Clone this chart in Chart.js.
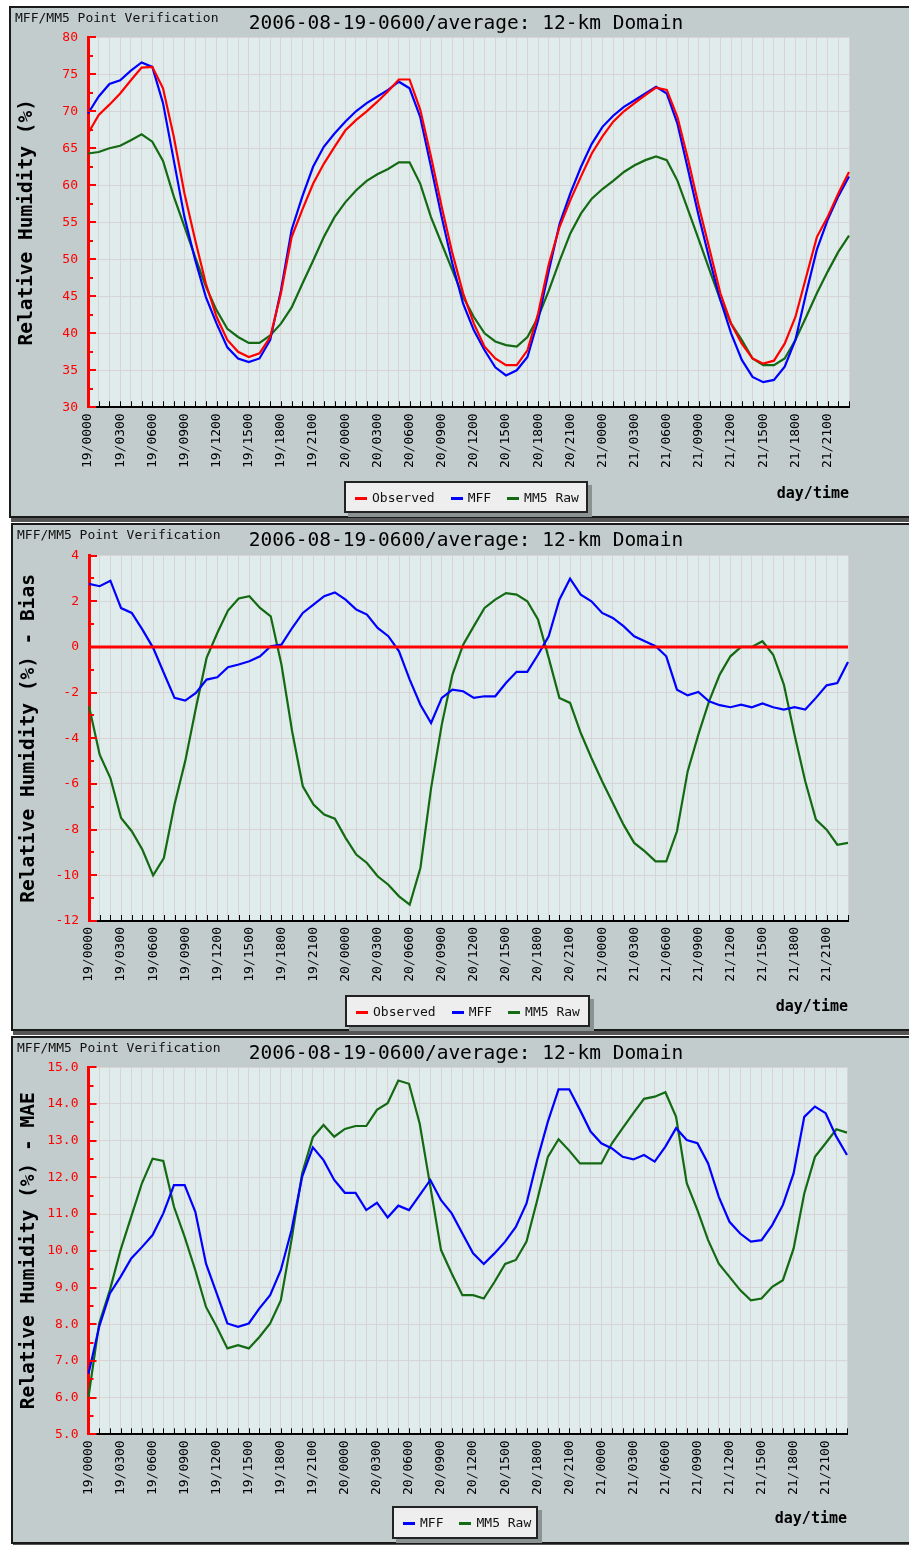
<!DOCTYPE html>
<html>
<head>
<meta charset="utf-8">
<script src="https://cdn.jsdelivr.net/npm/chart.js"></script>
<style>
  body { margin: 0; background: #fff; font-family: "DejaVu Sans Mono", monospace; }
  .panel { position: absolute; border: 2px solid #1a1a1a; background: #c2cccc; box-shadow: 2px 4px 0 #555; }
  .panel canvas { position: absolute; left: 0; top: 0; }
  .hdr { position: absolute; left: 4px; top: 3px; font-size: 13px; line-height: 13px; color: #111; white-space: nowrap; }
  .ttl { position: absolute; top: 5px; font-size: 19.5px; line-height: 20px; color: #000; white-space: nowrap; transform: translateX(-50%); }
  .legend { position: absolute; box-sizing: border-box; border: 2px solid #222; background: #eeeeee;
            box-shadow: 4px 4px 0 #8a9292; display: flex; align-items: center; padding: 0 9px; gap: 16px;
            font-size: 13px; color: #111; white-space: nowrap; }
  .legend .dash { display: inline-block; width: 12px; height: 3px; margin-right: 5px; vertical-align: middle; }
</style>
</head>
<body>

<div class="panel" id="p1" style="left:9px; top:6px; width:898px; height:508px;">
  <canvas id="c1" width="898" height="508"></canvas>
  <div class="hdr">MFF/MM5 Point Verification</div>
  <div class="ttl" style="left:455px;">2006-08-19-0600/average: 12-km Domain</div>
  <div class="legend" id="l1" style="left:333px; top:473px; width:244px; height:32px;"></div>
</div>

<div class="panel" id="p2" style="left:11px; top:523px; width:896px; height:504px;">
  <canvas id="c2" width="896" height="504"></canvas>
  <div class="hdr">MFF/MM5 Point Verification</div>
  <div class="ttl" style="left:453px;">2006-08-19-0600/average: 12-km Domain</div>
  <div class="legend" id="l2" style="left:332px; top:470px; width:245px; height:32px;"></div>
</div>

<div class="panel" id="p3" style="left:11px; top:1036px; width:896px; height:504px;">
  <canvas id="c3" width="896" height="504"></canvas>
  <div class="hdr">MFF/MM5 Point Verification</div>
  <div class="ttl" style="left:453px;">2006-08-19-0600/average: 12-km Domain</div>
  <div class="legend" id="l3" style="left:379px; top:468px; width:146px; height:33px;"></div>
</div>

<script>
const mono = '"DejaVu Sans Mono", monospace';
Chart.defaults.font.family = mono;

// time axis
const days = ['19', '20', '21'];
const hours = ['0000', '0100', '0200', '0300', '0400', '0500', '0600', '0700', '0800', '0900', '1000', '1100',
               '1200', '1300', '1400', '1500', '1600', '1700', '1800', '1900', '2000', '2100', '2200', '2300'];
const hourLabels = days.flatMap(d => hours.map(h => d + '/' + h));
const shownTicks = ['19/0000', '19/0300', '19/0600', '19/0900', '19/1200', '19/1500', '19/1800', '19/2100',
                    '20/0000', '20/0300', '20/0600', '20/0900', '20/1200', '20/1500', '20/1800', '20/2100',
                    '21/0000', '21/0300', '21/0600', '21/0900', '21/1200', '21/1500', '21/1800', '21/2100'];

// relative humidity (%)
const rhObserved = [67.0, 69.5, 70.9, 72.4, 74.2, 75.9, 76.0, 73.1, 66.6, 58.9, 52.6, 46.7, 42.2, 39.1, 37.5, 36.8, 37.3, 39.5, 45.4, 53.0,
                    56.7, 60.2, 62.9, 65.2, 67.4, 68.8, 70.0, 71.3, 72.7, 74.3, 74.3, 70.2, 63.9, 57.1, 50.8, 45.4, 41.3, 38.2, 36.6, 35.7,
                    35.7, 37.7, 42.7, 49.4, 54.4, 58.0, 61.2, 64.3, 66.6, 68.6, 70.0, 71.1, 72.2, 73.2, 72.9, 69.2, 63.4, 57.1, 51.3, 45.4,
                    41.3, 38.6, 36.6, 35.9, 36.3, 38.6, 42.2, 47.6, 53.0, 55.7, 58.9, 61.8];
const rhMFF = [69.7, 72.0, 73.7, 74.2, 75.5, 76.6, 76.0, 71.1, 63.4, 55.7, 49.9, 44.9, 41.3, 38.1, 36.6, 36.1, 36.6, 39.1, 45.8, 54.0,
               58.5, 62.5, 65.2, 67.0, 68.6, 70.0, 71.1, 72.0, 72.9, 74.0, 73.1, 69.2, 62.5, 55.7, 49.4, 44.0, 40.4, 37.7, 35.4, 34.3,
               35.0, 36.8, 41.8, 48.5, 54.8, 58.9, 62.5, 65.6, 67.9, 69.4, 70.6, 71.5, 72.4, 73.3, 72.4, 68.3, 62.0, 55.7, 49.9, 44.5,
               40.0, 36.4, 34.1, 33.4, 33.7, 35.5, 39.1, 45.4, 51.3, 55.3, 58.5, 61.2];
const rhMM5 = [64.3, 64.5, 65.0, 65.35, 66.1, 66.9, 65.9, 63.3, 58.5, 54.4, 50.3, 46.3, 43.1, 40.6, 39.5, 38.7, 38.7, 39.7, 41.3, 43.5,
               46.7, 49.8, 53.0, 55.7, 57.7, 59.3, 60.6, 61.5, 62.2, 63.1, 63.1, 60.2, 55.7, 52.1, 48.5, 44.9, 42.2, 40.0, 38.9, 38.4,
               38.2, 39.5, 42.2, 45.8, 49.8, 53.5, 56.2, 58.2, 59.5, 60.6, 61.8, 62.7, 63.4, 63.9, 63.4, 60.6, 56.6, 52.6, 48.5, 44.5,
               41.3, 39.1, 36.6, 35.7, 35.7, 36.6, 39.1, 42.2, 45.4, 48.3, 51.0, 53.2];

// bias
const biasObserved = [0, 0, 0, 0, 0, 0, 0, 0, 0, 0, 0, 0, 0, 0, 0, 0, 0, 0, 0, 0, 0, 0, 0, 0,
                      0, 0, 0, 0, 0, 0, 0, 0, 0, 0, 0, 0, 0, 0, 0, 0, 0, 0, 0, 0, 0, 0, 0, 0,
                      0, 0, 0, 0, 0, 0, 0, 0, 0, 0, 0, 0, 0, 0, 0, 0, 0, 0, 0, 0, 0, 0, 0, 0];
const biasMFF = [2.76, 2.66, 2.9, 1.7, 1.49, 0.76, -0.04, -1.14, -2.23, -2.35, -2.01, -1.43, -1.33, -0.89, -0.77, -0.63, -0.41, 0.03, 0.1, 0.83,
                 1.49, 1.85, 2.22, 2.39, 2.07, 1.64, 1.42, 0.83, 0.47, -0.19, -1.43, -2.53, -3.33, -2.23, -1.87, -1.94, -2.23, -2.16, -2.16, -1.58,
                 -1.09, -1.09, -0.34, 0.47, 2.07, 2.99, 2.29, 2.0, 1.49, 1.27, 0.91, 0.47, 0.25, 0.03, -0.41, -1.87, -2.12, -1.97, -2.38, -2.55,
                 -2.64, -2.53, -2.64, -2.47, -2.64, -2.74, -2.64, -2.74, -2.23, -1.68, -1.58, -0.66];
const biasMM5 = [-2.6, -4.72, -5.74, -7.49, -8.07, -8.88, -10.0, -9.24, -6.9, -5.0, -2.67, -0.48, 0.61, 1.59, 2.12, 2.22, 1.71, 1.34, -0.77, -3.69,
                 -6.1, -6.9, -7.34, -7.52, -8.36, -9.09, -9.46, -10.04, -10.41, -10.92, -11.28, -9.68, -6.18, -3.4, -1.21, 0.1, 0.91, 1.71, 2.07, 2.36,
                 2.29, 2.0, 1.2, -0.48, -2.23, -2.45, -3.77, -4.86, -5.88, -6.83, -7.78, -8.58, -8.95, -9.39, -9.39, -8.07, -5.45, -3.84, -2.38, -1.21,
                 -0.41, 0.0, 0.0, 0.25, -0.34, -1.65, -3.84, -5.88, -7.56, -8.0, -8.66, -8.58];

// mean absolute error
const maeMFF = [6.65, 7.93, 8.84, 9.29, 9.79, 10.1, 10.43, 11.02, 11.79, 11.79, 11.06, 9.65, 8.84, 8.02, 7.93, 8.02, 8.43, 8.79, 9.47, 10.56,
                12.02, 12.82, 12.47, 11.93, 11.58, 11.58, 11.11, 11.31, 10.91, 11.23, 11.11, 11.52, 11.93, 11.38, 11.02, 10.47, 9.93, 9.64, 9.93, 10.25,
                10.65, 11.29, 12.47, 13.52, 14.4, 14.4, 13.84, 13.25, 12.93, 12.79, 12.56, 12.49, 12.61, 12.43, 12.84, 13.34, 13.02, 12.93, 12.38, 11.47,
                10.79, 10.47, 10.25, 10.29, 10.7, 11.25, 12.11, 13.65, 13.93, 13.75, 13.11, 12.61];
const maeMM5 = [6.02, 8.02, 8.93, 10.02, 10.93, 11.84, 12.51, 12.45, 11.2, 10.38, 9.47, 8.47, 7.93, 7.34, 7.43, 7.34, 7.65, 8.02, 8.65, 10.29,
                12.11, 13.09, 13.43, 13.11, 13.32, 13.4, 13.4, 13.84, 14.02, 14.64, 14.55, 13.47, 11.75, 10.02, 9.38, 8.79, 8.79, 8.7, 9.15, 9.64,
                9.75, 10.25, 11.38, 12.56, 13.04, 12.73, 12.38, 12.38, 12.38, 12.93, 13.34, 13.75, 14.14, 14.2, 14.32, 13.65, 11.84, 11.11, 10.29, 9.65,
                9.29, 8.93, 8.65, 8.7, 9.02, 9.2, 10.06, 11.56, 12.56, 12.93, 13.31, 13.22];

const RED = '#ff0000', BLUE = '#0000ff', GREEN = '#136a13';
const plotBg = '#e0ecec';
const gridColor = '#d8d3d4';

// plot background, hour ticks on the time axis, red ticks on the value axis
const decor = {
    id: 'decor',
    beforeDraw(chart) {
        const { ctx, chartArea: a } = chart;
        ctx.save();
        ctx.fillStyle = plotBg;
        ctx.fillRect(a.left, a.top, a.right - a.left, a.bottom - a.top);
        ctx.restore();
    },
    afterDraw(chart) {
        const { ctx, chartArea: a, scales: { x, y } } = chart;
        ctx.save();
        ctx.strokeStyle = '#000';
        ctx.lineWidth = 1;
        ctx.beginPath();
        for (let i = 1; i < x.ticks.length; i++) {
            const px = Math.round(x.getPixelForTick(i)) + 0.5;
            ctx.moveTo(px, a.bottom);
            ctx.lineTo(px, a.bottom - 6);
        }
        ctx.stroke();

        const step = y.options.ticks.stepSize;
        ctx.strokeStyle = RED;
        ctx.lineWidth = 2;
        ctx.beginPath();
        for (let k = 0; y.min + k * step / 2 <= y.max + 1e-9; k++) {
            const py = Math.round(y.getPixelForValue(y.min + k * step / 2));
            ctx.moveTo(a.left, py);
            ctx.lineTo(a.left + (k % 2 === 0 ? 8 : 5), py);
        }
        ctx.stroke();
        ctx.restore();
    }
};

function buildLegend(id, series) {
    const box = document.getElementById(id);
    series.forEach(s => {
        const item = document.createElement('span');
        item.innerHTML = `<span class="dash" style="background:${s.color}"></span>${s.label}`;
        box.appendChild(item);
    });
}

function makeChart(canvasId, legendId, cfg) {
    buildLegend(legendId, cfg.series);
    return new Chart(document.getElementById(canvasId), {
        type: 'line',
        data: {
            labels: hourLabels,
            datasets: cfg.series.map(s => ({
                label: s.label,
                data: s.data,
                borderColor: s.color,
                backgroundColor: s.color,
                borderWidth: s.width || 2.2,
                pointRadius: 0,
                tension: 0,
                fill: false
            }))
        },
        options: {
            responsive: false,
            animation: false,
            events: [],
            layout: { padding: { top: cfg.top, right: cfg.right, left: 0, bottom: 0 } },
            plugins: { legend: { display: false }, tooltip: { enabled: false }, title: { display: false } },
            scales: {
                x: {
                    type: 'category',
                    offset: false,
                    grid: { color: gridColor, lineWidth: 1, drawTicks: false },
                    border: { color: '#000', width: 2 },
                    ticks: {
                        autoSkip: false, minRotation: 90, maxRotation: 90, padding: 6,
                        color: '#000', font: { size: 13 },
                        callback: (v, i) => shownTicks.includes(hourLabels[i]) ? hourLabels[i] : ''
                    },
                    title: {
                        display: true, text: 'day/time', align: 'end', color: '#000',
                        font: { size: 15, weight: 'bold' }, padding: { top: 0, bottom: cfg.xTitlePad }
                    },
                    afterFit: s => { s.height = cfg.xHeight; }
                },
                y: {
                    min: cfg.yMin, max: cfg.yMax,
                    grid: { color: gridColor, lineWidth: 1, drawTicks: false },
                    border: { color: RED, width: 3 },
                    ticks: {
                        stepSize: cfg.yStep, padding: 10, color: RED, font: { size: 13 },
                        callback: v => v.toFixed(cfg.yDecimals)
                    },
                    title: {
                        display: true, text: cfg.yTitle, color: '#000',
                        font: { size: 19.5, weight: 'bold' }, padding: { top: 4, bottom: 0 }
                    },
                    afterFit: s => { s.width = cfg.yWidth; }
                }
            }
        },
        plugins: [decor]
    });
}

makeChart('c1', 'l1', {
    yMin: 30, yMax: 80, yStep: 5, yDecimals: 0, yTitle: 'Relative Humidity (%)',
    top: 29.3, right: 60, yWidth: 77, xHeight: 108.7, xTitlePad: 13,
    series: [
        { label: 'Observed', data: rhObserved, color: RED },
        { label: 'MFF', data: rhMFF, color: BLUE },
        { label: 'MM5 Raw', data: rhMM5, color: GREEN }
    ]
});

makeChart('c2', 'l2', {
    yMin: -12, yMax: 4, yStep: 2, yDecimals: 0, yTitle: 'Relative Humidity (%) - Bias',
    top: 30.6, right: 61, yWidth: 76, xHeight: 108, xTitlePad: 13,
    series: [
        { label: 'Observed', data: biasObserved, color: RED, width: 3 },
        { label: 'MFF', data: biasMFF, color: BLUE },
        { label: 'MM5 Raw', data: biasMM5, color: GREEN }
    ]
});

makeChart('c3', 'l3', {
    yMin: 5, yMax: 15, yStep: 1, yDecimals: 1, yTitle: 'Relative Humidity (%) - MAE',
    top: 29.3, right: 62, yWidth: 75.5, xHeight: 107.7, xTitlePad: 14,
    series: [
        { label: 'MFF', data: maeMFF, color: BLUE },
        { label: 'MM5 Raw', data: maeMM5, color: GREEN }
    ]
});
</script>
</body>
</html>
